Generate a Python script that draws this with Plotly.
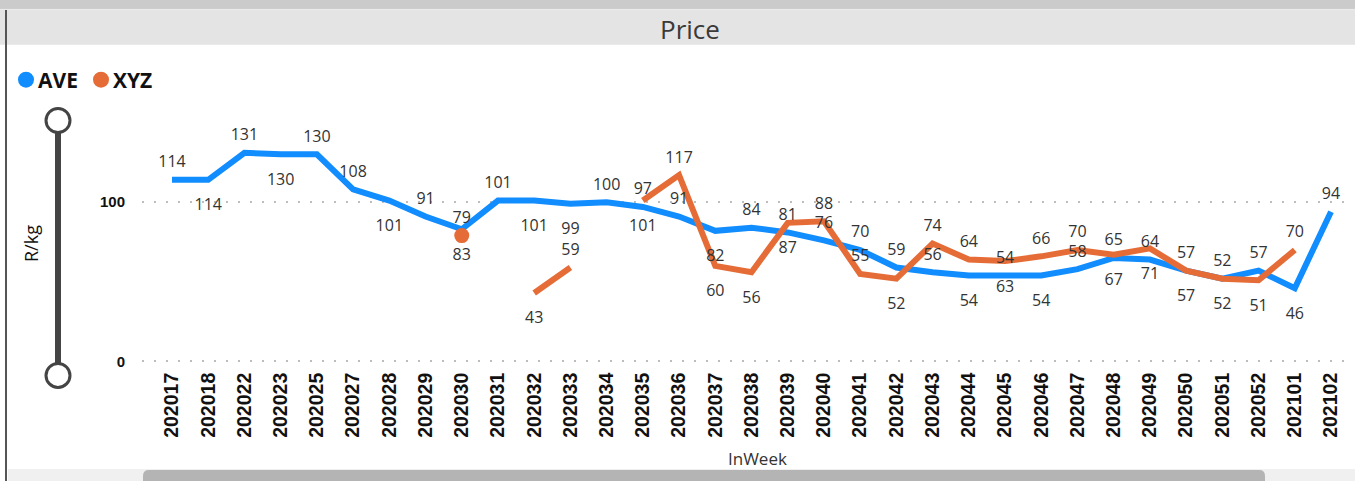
import plotly.graph_objects as go

W, H = 1355, 483

weeks = ["202017", "202018", "202022", "202023", "202025", "202027", "202028", "202029",
         "202030", "202031", "202032", "202033", "202034", "202035", "202036", "202037",
         "202038", "202039", "202040", "202041", "202042", "202043", "202044", "202045",
         "202046", "202047", "202048", "202049", "202050", "202051", "202052", "202101",
         "202102"]

ave = [114, 114, 131, 130, 130, 108, 101, 91, 83, 101, 101, 99, 100, 97, 91, 82, 84, 81,
       76, 70, 59, 56, 54, 54, 54, 58, 65, 64, 57, 52, 57, 46, 94]

xyz = [None, None, None, None, None, None, None, None, 79, None, 43, 59, None, 101, 117,
       60, 56, 87, 88, 55, 52, 74, 64, 63, 66, 70, 67, 71, 57, 52, 51, 70, None]

# label placement (T = above, B = below)
ave_pos = ["T", "B", "T", "B", "T", "T", "B", "T", "B", "T", "B", "B", "T", "T", "T", "B",
           "T", "T", "T", "T", "T", "T", "B", "T", "B", "T", "T", "T", "T", "T", "T", "B", "T"]
xyz_pos = ["T", "T", "T", "T", "T", "T", "T", "T", "T", "T", "B", "T", "T", "B", "T", "B",
           "B", "B", "T", "T", "B", "T", "T", "B", "T", "T", "B", "B", "B", "B", "B", "T", "T"]

BLUE = "#118DFF"
ORANGE = "#E66C37"


def px(x):
    return x / W


def py(y):
    return 1 - y / H


def tp(p):
    return "top center" if p == "T" else "bottom center"


def tsize(p):
    return 12 if p == "T" else 28


# isolated points (no neighbours) get a visible dot
def isolated(vals):
    out = []
    for i, v in enumerate(vals):
        prev_ = vals[i - 1] if i > 0 else None
        next_ = vals[i + 1] if i < len(vals) - 1 else None
        out.append(v if (v is not None and prev_ is None and next_ is None) else None)
    return out


fig = go.Figure()

fig.add_trace(go.Scatter(x=weeks, y=ave, mode="lines", line=dict(color=BLUE, width=6),
                         hoverinfo="skip", showlegend=False))
fig.add_trace(go.Scatter(x=weeks, y=xyz, mode="lines",
                         line=dict(color=ORANGE, width=6),
                         connectgaps=False, hoverinfo="skip", showlegend=False))
fig.add_trace(go.Scatter(x=weeks, y=isolated(xyz), mode="markers",
                         marker=dict(size=15, color=ORANGE, opacity=1, line=dict(width=0)),
                         hoverinfo="skip", showlegend=False))

label_font = dict(family="Open Sans, Segoe UI, sans-serif", size=16, color="#333333")
fig.add_trace(go.Scatter(x=weeks, y=ave, mode="markers+text",
                         text=[str(v) for v in ave],
                         textposition=[tp(p) for p in ave_pos],
                         marker=dict(size=[tsize(p) for p in ave_pos], opacity=0),
                         textfont=label_font, hoverinfo="skip", showlegend=False))
fig.add_trace(go.Scatter(x=weeks, y=xyz, mode="markers+text",
                         text=["" if v is None else str(v) for v in xyz],
                         textposition=[tp(p) for p in xyz_pos],
                         marker=dict(size=[tsize(p) for p in xyz_pos], opacity=0),
                         textfont=label_font, hoverinfo="skip", showlegend=False))

# axis geometry
x_left, x_right = 142, 1349
cat0, catN = 172, 1331
step = (catN - cat0) / (len(weeks) - 1)
xr0 = -(cat0 - x_left) / step
xr1 = (len(weeks) - 1) + (x_right - catN) / step

y_top = 115
ppu = 1.6
y_min = -4
y_max = 155
y_bottom = 363 + (-y_min) * ppu

fig.update_layout(
    width=W, height=H,
    margin=dict(l=0, r=0, t=0, b=0),
    paper_bgcolor="white", plot_bgcolor="white",
    showlegend=False,
    xaxis=dict(
        type="category", domain=[px(x_left), px(x_right)], range=[xr0, xr1],
        tickangle=-90, showgrid=False, zeroline=False, showline=False, ticks="",
        tickfont=dict(family="Liberation Sans, Arial, sans-serif", size=19.5, color="#111111",
                      weight="bold"),
        ticklabelstandoff=0,
        fixedrange=True,
    ),
    yaxis=dict(
        domain=[py(y_bottom), py(y_top)], range=[y_min, y_max],
        tickvals=[0, 100], ticktext=["0", "100"],
        showgrid=True, gridcolor="#BDBDBD", griddash="2px,10px", gridwidth=1.5,
        zeroline=False, showline=False, ticks="",
        tickfont=dict(family="Liberation Sans, Arial, sans-serif", size=15, color="#111111",
                      weight="bold"),
        ticklabelstandoff=16,
        fixedrange=True,
    ),
)

shapes = []
# top header strips
shapes.append(dict(type="rect", xref="paper", yref="paper", x0=0, x1=1, y0=py(10), y1=py(0),
                   fillcolor="#CBCBCB", line=dict(width=0), layer="below"))
shapes.append(dict(type="rect", xref="paper", yref="paper", x0=0, x1=1, y0=py(45), y1=py(10),
                   fillcolor="#E4E4E4", line=dict(width=0), layer="below"))
shapes.append(dict(type="line", xref="paper", yref="paper", x0=0, x1=1, y0=py(9.5), y1=py(9.5),
                   line=dict(color="#EDEDED", width=1)))
# left border
shapes.append(dict(type="line", xref="paper", yref="paper", x0=px(6), x1=px(6), y0=py(10), y1=0,
                   line=dict(color="#555555", width=2)))
# zoom slider
sx = 58
shapes.append(dict(type="line", xref="paper", yref="paper", x0=px(sx), x1=px(sx),
                   y0=py(377), y1=py(121), line=dict(color="#444444", width=6)))
for cy in (121, 377):
    shapes.append(dict(type="circle", xref="paper", yref="paper",
                       x0=px(sx - 12), x1=px(sx + 12), y0=py(cy + 12), y1=py(cy - 12),
                       fillcolor="white", line=dict(color="#444444", width=3)))
# scroll bar
shapes.append(dict(type="rect", xref="paper", yref="paper", x0=px(8), x1=1, y0=0, y1=py(471),
                   fillcolor="#F0F0F0", line=dict(width=0), layer="below"))
shapes.append(dict(type="path", xref="paper", yref="paper",
                   path=f"M {px(149)},{py(472)} L {px(1259)},{py(472)} "
                        f"Q {px(1265)},{py(472)} {px(1265)},{py(478)} L {px(1265)},0 "
                        f"L {px(143)},0 L {px(143)},{py(478)} Q {px(143)},{py(472)} {px(149)},{py(472)} Z",
                   fillcolor="#B4B4B4", line=dict(width=0)))
# legend markers
for cx, col in ((26, BLUE), (101, ORANGE)):
    shapes.append(dict(type="circle", xref="paper", yref="paper",
                       x0=px(cx - 8), x1=px(cx + 8), y0=py(80 + 8), y1=py(80 - 8),
                       fillcolor=col, line=dict(width=0)))
fig.update_layout(shapes=shapes)

ann = []
ann.append(dict(text="Price", xref="paper", yref="paper", x=px(690), y=py(29),
                showarrow=False, xanchor="center", yanchor="middle",
                font=dict(family="Open Sans, Segoe UI, sans-serif", size=26, color="#3A3A3A")))
ann.append(dict(text="<b>AVE</b>", xref="paper", yref="paper", x=px(36), y=py(80),
                showarrow=False, xanchor="left", yanchor="middle",
                font=dict(family="Open Sans, Segoe UI, sans-serif", size=21, color="#111111")))
ann.append(dict(text="<b>XYZ</b>", xref="paper", yref="paper", x=px(111), y=py(80),
                showarrow=False, xanchor="left", yanchor="middle",
                font=dict(family="Open Sans, Segoe UI, sans-serif", size=21, color="#111111")))
ann.append(dict(text="R/kg", xref="paper", yref="paper", x=px(31), y=py(245),
                showarrow=False, textangle=-90, xanchor="center", yanchor="middle",
                font=dict(family="Open Sans, Segoe UI, sans-serif", size=18, color="#111111")))
ann.append(dict(text="InWeek", xref="paper", yref="paper", x=px(757), y=py(460),
                showarrow=False, xanchor="center", yanchor="middle",
                font=dict(family="Open Sans, Segoe UI, sans-serif", size=17, color="#333333")))
fig.update_layout(annotations=ann)

fig.write_html("out.html", config={"displayModeBar": False},
               post_script="document.body.style.margin='0';document.body.style.overflow='hidden';")
